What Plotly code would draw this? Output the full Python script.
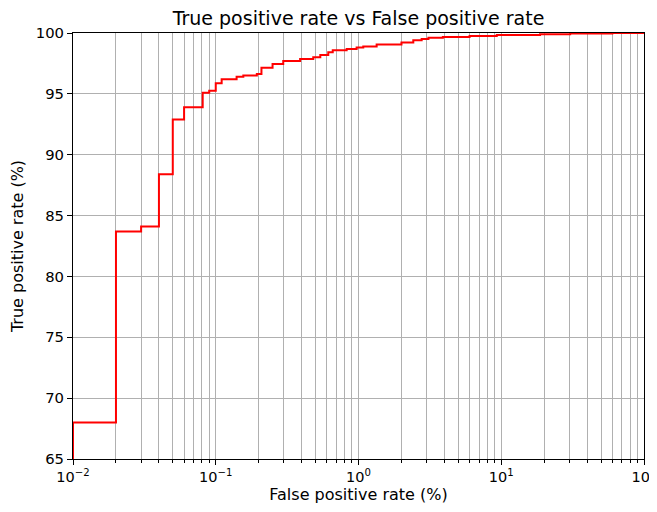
import plotly.graph_objects as go

fpr = [0.01, 0.01, 0.02, 0.03, 0.04, 0.05, 0.06, 0.081, 0.09, 0.1, 0.11, 0.14, 0.156,
       0.194, 0.209, 0.25, 0.297, 0.39, 0.482, 0.54, 0.614, 0.66, 0.826, 0.97, 1.08,
       1.34, 2.0, 2.42, 2.77, 3.09, 3.9, 6.0, 9.3, 18.7, 30.4, 60, 100]
tpr = [60, 68.0, 83.7, 84.1, 88.4, 92.9, 93.9, 95.1, 95.26, 95.87, 96.2, 96.4, 96.5,
       96.63, 97.15, 97.45, 97.7, 97.87, 98.0, 98.2, 98.42, 98.58, 98.69, 98.8, 98.9,
       99.06, 99.22, 99.4, 99.5, 99.6, 99.68, 99.76, 99.84, 99.9, 99.95, 100, 100]

x_tickvals = [0.01, 0.1, 1, 10, 100]
x_ticktext = ["10<sup>\u22122</sup>", "10<sup>\u22121</sup>", "10<sup>0</sup>",
              "10<sup>1</sup>", "10<sup>2</sup>"]
y_tickvals = [65, 70, 75, 80, 85, 90, 95, 100]

minor_vals = [m * d for d in [0.01, 0.1, 1, 10] for m in range(2, 10)]

FONT = "DejaVu Sans"
GRID = "#b0b0b0"
W, H = 649, 504  # page body has an 8px margin

fig = go.Figure()
fig.add_trace(go.Scatter(x=fpr, y=tpr, mode="lines", line=dict(color="red", width=2, shape="hv"),
                         showlegend=False))

fig.update_layout(
    width=W, height=H,
    margin=dict(l=65, r=13, t=25, b=53, autoexpand=False),
    paper_bgcolor="white", plot_bgcolor="white",
    font=dict(family=FONT, size=15, color="black"),
    title=dict(text="True positive rate vs False positive rate", x=(65 + 571 / 2) / W,
               xanchor="center", xref="container", yref="container",
               y=1 - 10 / H, yanchor="middle", font=dict(size=19, family=FONT, color="black")),
)
fig.update_xaxes(
    type="log", range=[-2, 2], automargin=False,
    tickvals=x_tickvals, ticktext=x_ticktext, tickfont=dict(size=14.5),
    showgrid=True, gridcolor=GRID, gridwidth=1,
    showline=True, linecolor="black", linewidth=1, mirror=True,
    ticks="outside", ticklen=5, tickcolor="black",
    minor=dict(tickvals=minor_vals, showgrid=True, gridcolor=GRID, gridwidth=1,
               ticks="outside", ticklen=3, tickcolor="black"),
    title=dict(text="False positive rate (%)", font=dict(size=16), standoff=4),
    zeroline=False,
)
fig.update_yaxes(
    range=[65, 100], tickvals=y_tickvals, automargin=False, tickfont=dict(size=14.8),
    showgrid=True, gridcolor=GRID, gridwidth=1,
    showline=True, linecolor="black", linewidth=1, mirror=True,
    ticks="outside", ticklen=5, tickcolor="black",
    title=dict(text="True positive rate (%)", font=dict(size=16), standoff=8),
    zeroline=False,
)

fig.write_html("out.html")
